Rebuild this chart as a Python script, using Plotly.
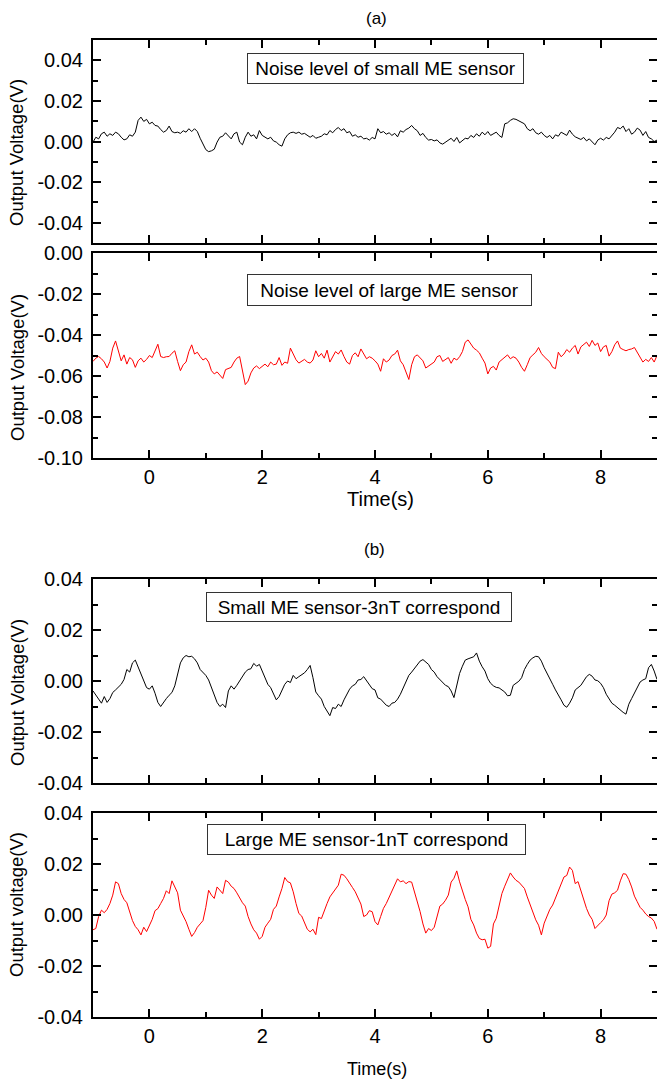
import plotly.graph_objects as go

# time base (s), sampled every 0.05 s
time_s = [
    -1.00, -0.95, -0.90, -0.85, -0.80, -0.75, -0.70, -0.65, -0.60, -0.55,
    -0.50, -0.45, -0.40, -0.35, -0.30, -0.25, -0.20, -0.15, -0.10, -0.05,
    0.00, 0.05, 0.10, 0.15, 0.20, 0.25, 0.30, 0.35, 0.40, 0.45,
    0.50, 0.55, 0.60, 0.65, 0.70, 0.75, 0.80, 0.85, 0.90, 0.95,
    1.00, 1.05, 1.10, 1.15, 1.20, 1.25, 1.30, 1.35, 1.40, 1.45,
    1.50, 1.55, 1.60, 1.65, 1.70, 1.75, 1.80, 1.85, 1.90, 1.95,
    2.00, 2.05, 2.10, 2.15, 2.20, 2.25, 2.30, 2.35, 2.40, 2.45,
    2.50, 2.55, 2.60, 2.65, 2.70, 2.75, 2.80, 2.85, 2.90, 2.95,
    3.00, 3.05, 3.10, 3.15, 3.20, 3.25, 3.30, 3.35, 3.40, 3.45,
    3.50, 3.55, 3.60, 3.65, 3.70, 3.75, 3.80, 3.85, 3.90, 3.95,
    4.00, 4.05, 4.10, 4.15, 4.20, 4.25, 4.30, 4.35, 4.40, 4.45,
    4.50, 4.55, 4.60, 4.65, 4.70, 4.75, 4.80, 4.85, 4.90, 4.95,
    5.00, 5.05, 5.10, 5.15, 5.20, 5.25, 5.30, 5.35, 5.40, 5.45,
    5.50, 5.55, 5.60, 5.65, 5.70, 5.75, 5.80, 5.85, 5.90, 5.95,
    6.00, 6.05, 6.10, 6.15, 6.20, 6.25, 6.30, 6.35, 6.40, 6.45,
    6.50, 6.55, 6.60, 6.65, 6.70, 6.75, 6.80, 6.85, 6.90, 6.95,
    7.00, 7.05, 7.10, 7.15, 7.20, 7.25, 7.30, 7.35, 7.40, 7.45,
    7.50, 7.55, 7.60, 7.65, 7.70, 7.75, 7.80, 7.85, 7.90, 7.95,
    8.00, 8.05, 8.10, 8.15, 8.20, 8.25, 8.30, 8.35, 8.40, 8.45,
    8.50, 8.55, 8.60, 8.65, 8.70, 8.75, 8.80, 8.85, 8.90, 8.95,
    9.00,
]

# (a) noise level of small ME sensor (V)
small_noise_v = [
    -0.0003, 0.0021, 0.0013, 0.0038, 0.0046, 0.0026, 0.0038, 0.0030, 0.0046, 0.0038,
    0.0021, 0.0008, 0.0013, 0.0033, 0.0026, 0.0046, 0.0104, 0.0120, 0.0099, 0.0109,
    0.0087, 0.0095, 0.0079, 0.0076, 0.0059, 0.0046, 0.0054, 0.0076, 0.0049, 0.0043,
    0.0046, 0.0040, 0.0053, 0.0046, 0.0063, 0.0049, 0.0063, 0.0049, 0.0016, -0.0016,
    -0.0040, -0.0050, -0.0046, -0.0038, -0.0003, 0.0021, 0.0026, 0.0043, 0.0026, 0.0013,
    0.0038, 0.0046, -0.0003, -0.0016, 0.0021, 0.0046, 0.0026, 0.0033, 0.0013, 0.0054,
    0.0030, 0.0021, 0.0013, 0.0021, 0.0003, -0.0003, -0.0016, -0.0023, 0.0013, 0.0033,
    0.0043, 0.0046, 0.0040, 0.0046, 0.0036, 0.0040, 0.0030, 0.0021, 0.0030, 0.0016,
    0.0021, 0.0026, 0.0038, 0.0033, 0.0054, 0.0043, 0.0059, 0.0069, 0.0054, 0.0063,
    0.0043, 0.0049, 0.0026, 0.0033, 0.0021, 0.0026, 0.0013, 0.0016, 0.0007, 0.0020,
    0.0013, 0.0063, 0.0043, 0.0049, 0.0036, 0.0043, 0.0030, 0.0040, 0.0023, 0.0053,
    0.0046, 0.0059, 0.0066, 0.0079, 0.0063, 0.0053, 0.0030, 0.0040, 0.0020, 0.0007,
    0.0010, 0.0003, 0.0008, -0.0007, -0.0013, -0.0003, 0.0003, 0.0016, 0.0000, 0.0020,
    -0.0007, 0.0007, 0.0016, 0.0013, 0.0030, 0.0020, 0.0038, 0.0026, 0.0046, 0.0033,
    0.0049, 0.0030, 0.0040, 0.0046, 0.0030, 0.0020, 0.0087, 0.0092, 0.0104, 0.0112,
    0.0109, 0.0102, 0.0095, 0.0087, 0.0063, 0.0053, 0.0063, 0.0043, 0.0036, 0.0046,
    0.0030, 0.0020, 0.0030, 0.0013, 0.0033, 0.0026, 0.0046, 0.0040, 0.0030, 0.0056,
    0.0036, 0.0023, 0.0016, 0.0010, 0.0020, 0.0003, 0.0013, -0.0003, -0.0016, 0.0007,
    0.0016, 0.0007, 0.0020, 0.0013, 0.0030, 0.0046, 0.0069, 0.0063, 0.0076, 0.0049,
    0.0063, 0.0036, 0.0046, 0.0066, 0.0056, 0.0030, 0.0049, 0.0020, 0.0013, 0.0000,
    0.0007,
]

# (a) noise level of large ME sensor (V)
large_noise_v = [
    -0.0529, -0.0513, -0.0505, -0.0516, -0.0532, -0.0561, -0.0529, -0.0464, -0.0429, -0.0473,
    -0.0526, -0.0497, -0.0542, -0.0510, -0.0521, -0.0558, -0.0526, -0.0513, -0.0532, -0.0519,
    -0.0500, -0.0510, -0.0481, -0.0445, -0.0505, -0.0510, -0.0506, -0.0505, -0.0489, -0.0477,
    -0.0529, -0.0574, -0.0545, -0.0532, -0.0481, -0.0448, -0.0493, -0.0484, -0.0505, -0.0522,
    -0.0513, -0.0532, -0.0574, -0.0590, -0.0580, -0.0596, -0.0612, -0.0569, -0.0564, -0.0558,
    -0.0532, -0.0513, -0.0505, -0.0577, -0.0642, -0.0625, -0.0585, -0.0561, -0.0551, -0.0564,
    -0.0551, -0.0542, -0.0555, -0.0532, -0.0545, -0.0542, -0.0510, -0.0548, -0.0532, -0.0538,
    -0.0464, -0.0489, -0.0521, -0.0537, -0.0526, -0.0519, -0.0532, -0.0537, -0.0522, -0.0477,
    -0.0506, -0.0490, -0.0513, -0.0474, -0.0532, -0.0505, -0.0481, -0.0493, -0.0473, -0.0505,
    -0.0532, -0.0542, -0.0500, -0.0487, -0.0506, -0.0468, -0.0493, -0.0516, -0.0506, -0.0513,
    -0.0526, -0.0542, -0.0577, -0.0516, -0.0532, -0.0522, -0.0500, -0.0493, -0.0474, -0.0526,
    -0.0545, -0.0577, -0.0617, -0.0545, -0.0506, -0.0497, -0.0513, -0.0526, -0.0561, -0.0551,
    -0.0545, -0.0532, -0.0506, -0.0500, -0.0529, -0.0519, -0.0510, -0.0538, -0.0513, -0.0522,
    -0.0506, -0.0481, -0.0435, -0.0424, -0.0445, -0.0464, -0.0474, -0.0487, -0.0513, -0.0537,
    -0.0590, -0.0561, -0.0553, -0.0571, -0.0532, -0.0519, -0.0506, -0.0497, -0.0516, -0.0506,
    -0.0513, -0.0532, -0.0558, -0.0577, -0.0545, -0.0510, -0.0497, -0.0484, -0.0461, -0.0490,
    -0.0506, -0.0519, -0.0532, -0.0558, -0.0564, -0.0484, -0.0506, -0.0493, -0.0471, -0.0484,
    -0.0464, -0.0451, -0.0493, -0.0458, -0.0445, -0.0435, -0.0456, -0.0426, -0.0451, -0.0439,
    -0.0481, -0.0458, -0.0451, -0.0503, -0.0481, -0.0448, -0.0429, -0.0464, -0.0471, -0.0477,
    -0.0471, -0.0468, -0.0461, -0.0484, -0.0506, -0.0532, -0.0519, -0.0529, -0.0510, -0.0532,
    -0.0500,
]

# (b) small ME sensor, 3 nT excitation (V)
small_3nt_v = [
    -0.0039, -0.0056, -0.0069, -0.0087, -0.0061, -0.0084, -0.0069, -0.0045, -0.0035, -0.0025,
    -0.0013, 0.0006, 0.0045, 0.0035, 0.0071, 0.0082, 0.0056, 0.0026, 0.0000, -0.0026,
    -0.0032, -0.0019, -0.0048, -0.0084, -0.0100, -0.0082, -0.0069, -0.0056, -0.0045, -0.0019,
    0.0026, 0.0071, 0.0091, 0.0100, 0.0095, 0.0097, 0.0087, 0.0071, 0.0045, 0.0035,
    0.0022, 0.0004, -0.0026, -0.0061, -0.0084, -0.0100, -0.0091, -0.0104, -0.0039, -0.0019,
    -0.0032, -0.0017, 0.0000, 0.0019, 0.0035, 0.0045, 0.0048, 0.0069, 0.0058, 0.0065,
    0.0039, 0.0009, -0.0013, -0.0026, -0.0052, -0.0074, -0.0061, -0.0039, -0.0013, 0.0000,
    -0.0006, 0.0022, 0.0009, 0.0017, 0.0026, 0.0032, 0.0045, 0.0061, 0.0013, -0.0043,
    -0.0058, -0.0071, -0.0100, -0.0117, -0.0136, -0.0104, -0.0108, -0.0091, -0.0100, -0.0074,
    -0.0052, -0.0032, -0.0019, -0.0013, 0.0004, 0.0006, 0.0017, 0.0000, -0.0013, -0.0030,
    -0.0035, -0.0066, -0.0071, -0.0082, -0.0095, -0.0100, -0.0087, -0.0084, -0.0071, -0.0052,
    -0.0026, -0.0004, 0.0022, 0.0035, 0.0048, 0.0065, 0.0078, 0.0084, 0.0074, 0.0065,
    0.0045, 0.0035, 0.0017, 0.0006, -0.0009, -0.0017, -0.0022, -0.0039, -0.0065, -0.0019,
    0.0030, 0.0058, 0.0082, 0.0087, 0.0091, 0.0095, 0.0110, 0.0078, 0.0056, 0.0039,
    0.0009, -0.0009, -0.0019, -0.0025, -0.0027, -0.0035, -0.0043, -0.0058, -0.0056, -0.0017,
    -0.0009, -0.0001, 0.0013, 0.0045, 0.0065, 0.0082, 0.0091, 0.0097, 0.0095, 0.0078,
    0.0052, 0.0032, 0.0012, -0.0013, -0.0035, -0.0052, -0.0074, -0.0095, -0.0103, -0.0087,
    -0.0066, -0.0035, -0.0026, -0.0017, 0.0000, 0.0017, 0.0026, 0.0019, 0.0004, 0.0001,
    -0.0009, -0.0026, -0.0052, -0.0069, -0.0087, -0.0095, -0.0105, -0.0113, -0.0123, -0.0130,
    -0.0091, -0.0069, -0.0048, -0.0026, -0.0004, 0.0004, 0.0009, 0.0052, 0.0065, 0.0039,
    0.0006,
]

# (b) large ME sensor, 1 nT excitation (V)
large_1nt_v = [
    -0.0058, -0.0053, -0.0006, 0.0019, 0.0009, 0.0022, 0.0045, 0.0078, 0.0130, 0.0123,
    0.0084, 0.0061, 0.0048, 0.0009, -0.0022, -0.0045, -0.0058, -0.0078, -0.0048, -0.0065,
    -0.0039, -0.0017, 0.0017, 0.0025, 0.0045, 0.0065, 0.0095, 0.0084, 0.0134, 0.0110,
    0.0087, 0.0019, -0.0001, -0.0026, -0.0056, -0.0084, -0.0069, -0.0048, -0.0035, -0.0022,
    0.0030, 0.0097, 0.0078, 0.0065, 0.0110, 0.0095, 0.0084, 0.0136, 0.0129, 0.0113,
    0.0104, 0.0087, 0.0065, 0.0048, 0.0035, -0.0006, -0.0035, -0.0058, -0.0071, -0.0095,
    -0.0084, -0.0048, -0.0032, -0.0017, 0.0022, 0.0035, 0.0071, 0.0104, 0.0147, 0.0131,
    0.0126, 0.0091, 0.0045, 0.0006, -0.0004, -0.0030, -0.0056, -0.0066, -0.0056, -0.0077,
    -0.0009, -0.0014, 0.0019, 0.0045, 0.0071, 0.0087, 0.0100, 0.0117, 0.0160, 0.0156,
    0.0142, 0.0123, 0.0108, 0.0091, 0.0069, 0.0043, -0.0006, 0.0000, 0.0017, 0.0013,
    -0.0026, -0.0039, -0.0006, 0.0026, 0.0045, 0.0069, 0.0095, 0.0121, 0.0142, 0.0130,
    0.0134, 0.0123, 0.0131, 0.0129, 0.0091, 0.0058, 0.0013, -0.0035, -0.0071, -0.0053,
    -0.0061, -0.0048, -0.0004, 0.0035, 0.0043, 0.0058, 0.0078, 0.0129, 0.0144, 0.0173,
    0.0130, 0.0091, 0.0061, 0.0032, -0.0017, -0.0039, -0.0071, -0.0092, -0.0097, -0.0095,
    -0.0130, -0.0123, -0.0035, -0.0013, 0.0039, 0.0084, 0.0113, 0.0136, 0.0165, 0.0149,
    0.0136, 0.0129, 0.0118, 0.0104, 0.0071, 0.0039, 0.0013, -0.0019, -0.0040, -0.0078,
    -0.0032, -0.0004, 0.0022, 0.0039, 0.0065, 0.0095, 0.0123, 0.0149, 0.0155, 0.0188,
    0.0175, 0.0123, 0.0131, 0.0095, 0.0058, 0.0026, 0.0000, -0.0017, -0.0053, -0.0043,
    -0.0030, -0.0019, 0.0000, 0.0056, 0.0082, 0.0087, 0.0097, 0.0134, 0.0162, 0.0160,
    0.0139, 0.0110, 0.0074, 0.0052, 0.0030, 0.0019, 0.0004, -0.0006, -0.0012, -0.0025,
    -0.0056,
]

box_texts = [
    "Noise level of small ME sensor",
    "Noise level of large ME sensor",
    "Small ME sensor-3nT correspond",
    "Large ME sensor-1nT correspond",
]
y_titles = ["Output Voltage(V)", "Output Voltage(V)", "Output Voltage(V)", "Output voltage(V)"]
x_tick_vals = [0, 2, 4, 6, 8]

W, H = 657, 1080
FONT = "Liberation Sans, Arial, sans-serif"


def px_x(p):
    return p / W


def px_y(p):
    return 1 - p / H


# panel pixel boxes (top, bottom) and y ranges
panels = [
    dict(top=40, bottom=243, yr=[-0.05, 0.05], ticks=[-0.04, -0.02, 0.0, 0.02, 0.04],
         series=small_noise_v, color="black", xlabels=False),
    dict(top=253, bottom=458, yr=[-0.10, 0.0], ticks=[-0.10, -0.08, -0.06, -0.04, -0.02, 0.0],
         series=large_noise_v, color="#ff0000", xlabels=True),
    dict(top=579, bottom=783, yr=[-0.04, 0.04], ticks=[-0.04, -0.02, 0.0, 0.02, 0.04],
         series=small_3nt_v, color="black", xlabels=False),
    dict(top=813, bottom=1017, yr=[-0.04, 0.04], ticks=[-0.04, -0.02, 0.0, 0.02, 0.04],
         series=large_1nt_v, color="#ff0000", xlabels=True),
]

fig = go.Figure()
layout = {}
axis_common = dict(showgrid=False, zeroline=False, showline=True, linewidth=2, linecolor="black",
                   mirror="allticks", ticks="inside", ticklen=8, tickwidth=1.5, tickcolor="black",
                   automargin=False,
                   tickfont=dict(family=FONT, size=20, color="black"))

for i, p in enumerate(panels):
    n = "" if i == 0 else str(i + 1)
    fig.add_trace(go.Scatter(x=time_s, y=p["series"], mode="lines",
                             line=dict(color=p["color"], width=1),
                             xaxis="x" + n, yaxis="y" + n, showlegend=False, hoverinfo="skip"))
    layout["xaxis" + n] = dict(axis_common, domain=[px_x(93), 1], range=[-1, 9], anchor="y" + n,
                               tickmode="array", tickvals=x_tick_vals,
                               ticktext=[str(v) for v in x_tick_vals],
                               showticklabels=p["xlabels"], ticklabelstandoff=0,
                               minor=dict(ticks="inside", ticklen=5, tickwidth=1.5, tickcolor="black",
                                          tickvals=[-1, 1, 3, 5, 7, 9]))
    layout["yaxis" + n] = dict(axis_common, domain=[px_y(p["bottom"]), px_y(p["top"])],
                               range=p["yr"], anchor="x" + n, tickmode="array",
                               tickvals=p["ticks"], ticktext=["%.2f" % v for v in p["ticks"]],
                               ticklabelstandoff=4,
                               minor=dict(ticks="inside", ticklen=5, tickwidth=1.5, tickcolor="black",
                                          dtick=0.01, tick0=0))

annotations = []
# sensor description boxes: (center x, center y, box width, box height) in pixels
boxes = [(385.5, 68.5, 277, 31), (389.5, 290, 285, 32), (359, 607, 306, 30), (366.5, 839.5, 319, 31)]
for text, (cx, cy, bw, bh) in zip(box_texts, boxes):
    annotations.append(dict(text=text, xref="paper", yref="paper", x=px_x(cx), y=px_y(cy),
                            xanchor="center", yanchor="middle", showarrow=False,
                            width=bw - 4, height=bh - 4, borderpad=1, borderwidth=1,
                            bordercolor="#333333", bgcolor="white",
                            font=dict(family=FONT, size=19, color="black")))

title_centers = [153, 368, 693, 905]
for text, cy in zip(y_titles, title_centers):
    annotations.append(dict(text=text, xref="paper", yref="paper", x=px_x(17), y=px_y(cy),
                            xanchor="center", yanchor="middle", textangle=-90, showarrow=False,
                            font=dict(family=FONT, size=18.5, color="black")))

for text, cx, cy, fs in [("Time(s)", 380, 499, 20), ("Time(s)", 377, 1069, 18)]:
    annotations.append(dict(text=text, xref="paper", yref="paper", x=px_x(cx), y=px_y(cy),
                            xanchor="center", yanchor="middle", showarrow=False,
                            font=dict(family=FONT, size=fs, color="black")))

for text, cx, cy in [("(a)", 376, 18), ("(b)", 374, 549)]:
    annotations.append(dict(text=text, xref="paper", yref="paper", x=px_x(cx), y=px_y(cy),
                            xanchor="center", yanchor="middle", showarrow=False,
                            font=dict(family=FONT, size=17, color="black")))

fig.update_layout(**layout)
fig.update_layout(
    template="none",
    width=W, height=H, autosize=False,
    margin=dict(l=0, r=0, t=0, b=0, pad=0),
    paper_bgcolor="white", plot_bgcolor="white",
    annotations=annotations,
    font=dict(family=FONT, color="black"),
)

# remove the page margin so the figure fills the window exactly
page_fix = ("document.body.style.margin='0';"
            "document.body.style.overflow='hidden';"
            "document.documentElement.style.overflow='hidden';")
fig.write_html("out.html", post_script=page_fix, config={"displayModeBar": False})
